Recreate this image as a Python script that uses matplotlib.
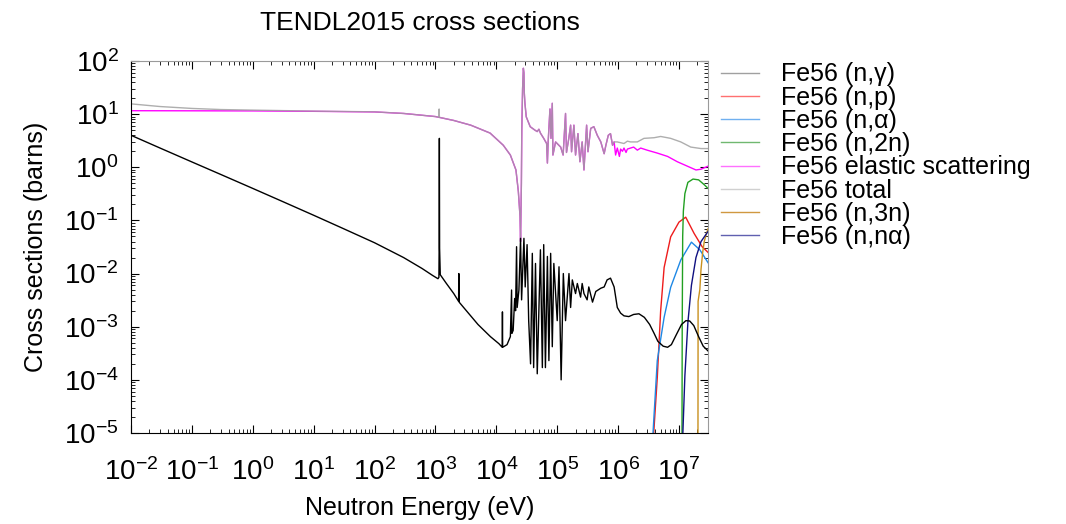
import matplotlib
matplotlib.use("Agg")
import matplotlib.pyplot as plt
from matplotlib.ticker import LogLocator, NullFormatter

plt.rcParams["font.family"] = ["Liberation Sans", "DejaVu Sans"]
plt.rcParams["mathtext.default"] = "regular"
plt.rcParams["axes.unicode_minus"] = False

# ========== data ==========
cap_E = [1e-2, 3e-2, 0.1, 0.3, 1, 3, 10, 30, 100, 300, 600, 900, 1.1e3, 1.14e3, 1.15e3,
         1.16e3, 1.17e3, 1.2e3, 1.5e3, 2e3, 2.4e3, 2.42e3, 2.45e3, 3e3, 5e3, 8e3, 1.1e4,
         1.25e4, 1.26e4, 1.27e4, 1.5e4, 1.7e4, 1.78e4, 1.8e4, 1.89e4, 2.0e4, 2.07e4, 2.15e4,
         2.2e4, 2.35e4, 2.5e4, 2.6e4, 2.84e4, 2.98e4, 3.2e4, 3.4e4, 3.65e4, 3.9e4, 4.1e4,
         4.4e4, 4.7e4, 5.3e4, 5.7e4, 6.0e4, 6.4e4, 6.9e4, 7.3e4, 7.8e4, 8.3e4, 8.8e4, 1.0e5,
         1.07e5, 1.16e5, 1.26e5, 1.37e5, 1.56e5, 1.66e5, 1.77e5, 2.0e5, 2.14e5, 2.42e5,
         2.57e5, 2.75e5, 3.1e5, 3.3e5, 3.8e5, 4.3e5, 5.2e5, 5.9e5, 6.6e5, 7.5e5, 8.6e5,
         9.7e5, 1.1e6, 1.25e6, 1.5e6, 1.8e6, 2.2e6, 2.7e6, 3.3e6, 3.9e6, 4.5e6, 5.5e6,
         6.5e6, 7.5e6, 9e6, 1.1e7, 1.3e7, 1.5e7, 1.75e7, 2.1e7, 2.5e7, 3.0e7]
cap_sig = [4.0, 2.3, 1.26, 0.73, 0.40, 0.23, 0.125, 0.071, 0.038, 0.020, 0.0125, 0.0092,
           0.0080, 0.0085, 0.03, 3.5, 0.03, 0.0095, 0.0066, 0.0042, 0.0030, 0.010, 0.0029,
           0.0022, 0.0011, 6.5e-4, 4.8e-4, 4.1e-4, 1.9e-3, 4.1e-4, 4.6e-4, 6.5e-4, 4.9e-3,
           7.5e-4, 8.5e-4, 3.4e-3, 2.0e-3, 0.032, 2.3e-3, 4.9e-3, 0.046, 3.2e-3, 0.046,
           5.6e-3, 0.035, 1.3e-3, 2.0e-4, 0.024, 1.7e-4, 0.0155, 1.3e-4, 0.028, 1.7e-4,
           0.035, 1.7e-4, 0.021, 2.3e-4, 0.024, 4.2e-4, 0.0155, 1.3e-3, 0.0134, 1.0e-4,
           0.010, 1.3e-3, 0.010, 2.3e-3, 7.6e-3, 4.2e-3, 6.5e-3, 3.6e-3, 6.5e-3, 4.2e-3,
           3.2e-3, 5.6e-3, 2.9e-3, 4.6e-3, 5.3e-3, 5.6e-3, 7.6e-3, 8.2e-3, 5.6e-3, 2.3e-3,
           1.8e-3, 1.6e-3, 1.55e-3, 1.7e-3, 1.75e-3, 1.5e-3, 1.1e-3, 7.5e-4, 5.3e-4, 4.3e-4,
           4.1e-4, 4.6e-4, 7e-4, 1.1e-3, 1.3e-3, 1.28e-3, 1.05e-3, 6.5e-4, 4.3e-4, 3.5e-4]

np_E = [3.8e6, 4.4e6, 5.0e6, 5.7e6, 7.3e6, 1.0e7, 1.29e7, 1.77e7, 2.4e7, 3.0e7]
np_sig = [8e-6, 1.1e-4, 2e-3, 0.013, 0.049, 0.093, 0.115, 0.057, 0.032, 0.025]

na_E = [3.7e6, 4.4e6, 5.7e6, 7.3e6, 1.07e7, 1.6e7, 2.2e7, 3.0e7]
na_sig = [8e-6, 2.3e-4, 1.5e-3, 5.5e-3, 0.018, 0.039, 0.028, 0.016]

n2n_E = [1.12e7, 1.13e7, 1.15e7, 1.18e7, 1.25e7, 1.4e7, 1.7e7, 2.1e7, 2.6e7, 3.0e7]
n2n_sig = [8e-6, 1e-3, 0.05, 0.15, 0.32, 0.52, 0.6, 0.58, 0.47, 0.40]

el_E = [1e-2, 1, 10, 100, 300, 1e3, 1.15e3, 2e3, 3.8e3, 7.9e3, 1.3e4, 1.7e4, 2.1e4, 2.3e4,
        2.45e4, 2.5e4, 2.58e4, 2.62e4, 2.7e4, 2.78e4, 2.84e4, 2.88e4, 2.95e4, 3.1e4, 3.6e4,
        4.3e4, 4.7e4, 5.0e4, 5.3e4, 6.0e4, 6.7e4, 6.9e4, 7.1e4, 7.6e4, 7.9e4, 8.3e4, 8.5e4,
        9.4e4, 1.14e5, 1.25e5, 1.37e5, 1.42e5, 1.55e5, 1.66e5, 1.72e5, 1.88e5, 2.0e5,
        2.19e5, 2.36e5, 2.57e5, 2.75e5, 3.04e5, 3.2e5, 3.55e5, 4.0e5, 4.55e5, 5.2e5, 5.9e5,
        6.3e5, 6.9e5, 7.5e5, 8.1e5, 8.6e5, 9.1e5, 9.7e5, 1.05e6, 1.1e6, 1.18e6, 1.25e6,
        1.35e6, 1.42e6, 1.6e6, 1.8e6, 2.07e6, 2.35e6, 3.0e6, 4.4e6, 6.5e6, 9.4e6, 1.37e7,
        1.9e7, 2.3e7, 3.0e7]
el_sig = [11.6, 11.5, 11.3, 11.0, 10.3, 9.0, 8.7, 7.6, 6.2, 4.4, 2.6, 1.7, 0.89, 0.35,
          0.12, 0.04, 0.5, 5, 30, 73, 60, 25, 16, 8.9, 5.8,
          5.0, 4.7, 5.2, 4.4, 3.5, 2.8, 1.2, 3.0, 12.5, 3.5, 16, 1.7,
          3.0, 2.4, 1.7, 10.3, 1.9, 3.5, 6.2, 1.96, 6.2, 1.7,
          4.3, 1.27, 3.0, 0.89, 6.2, 1.96, 5.4, 5.8, 4.0, 3.0, 1.8,
          2.6, 4.0, 4.3, 2.6, 3.0, 1.7, 2.3, 1.6, 2.2, 2.0, 2.3,
          1.9, 2.2, 2.3, 2.4, 2.1, 2.3, 2.1, 1.85, 1.6, 1.27, 1.05,
          0.89, 0.92, 1.05]

tot_E = [1e-2, 3e-2, 0.1, 0.3, 1, 10, 100, 300, 1e3, 1.14e3, 1.15e3, 1.16e3, 2e3, 3.8e3,
         7.9e3, 1.3e4, 1.7e4, 2.1e4, 2.3e4, 2.45e4, 2.5e4, 2.58e4, 2.62e4, 2.7e4, 2.78e4,
         2.84e4, 2.88e4, 2.95e4, 3.1e4, 3.6e4, 4.3e4, 4.7e4, 5.0e4, 5.3e4, 6.0e4, 6.7e4,
         6.9e4, 7.1e4, 7.6e4, 7.9e4, 8.3e4, 8.5e4, 9.4e4, 1.14e5, 1.25e5, 1.37e5, 1.42e5,
         1.55e5, 1.66e5, 1.72e5, 1.88e5, 2.0e5, 2.19e5, 2.36e5, 2.57e5, 2.75e5, 3.04e5,
         3.2e5, 3.55e5, 4.0e5, 4.55e5, 5.2e5, 5.9e5, 6.3e5, 6.9e5, 7.5e5, 8.1e5, 8.6e5,
         9.7e5, 1.1e6, 1.25e6, 1.42e6, 1.6e6, 2.07e6, 2.66e6, 3.9e6, 5.0e6, 7.3e6, 1.07e7,
         1.56e7, 2.3e7, 3.0e7]
tot_sig = [15.6, 13.9, 12.8, 12.2, 11.9, 11.4, 11.05, 10.3, 9.0, 8.7, 12.5, 8.7, 7.6, 6.2,
           4.4, 2.6, 1.7, 0.89, 0.35, 0.12, 0.04, 0.5, 5, 30, 73,
           60, 25, 16, 8.9, 5.8, 5.0, 4.7, 5.2, 4.4, 3.5, 2.8,
           1.2, 3.0, 12.5, 3.5, 16, 1.7, 3.0, 2.4, 1.7, 10.3, 1.9,
           3.5, 6.2, 1.96, 6.2, 1.7, 4.3, 1.27, 3.0, 0.89, 6.2,
           1.96, 5.4, 5.8, 4.0, 3.0, 1.8, 2.6, 4.0, 4.3, 2.6, 3.0,
           3.0, 2.9, 2.8, 3.1, 3.0, 3.0, 3.5, 3.6, 3.8, 3.5, 3.0,
           2.4, 2.25, 2.25]

n3n_E = [2.05e7, 2.06e7, 2.2e7, 2.3e7, 2.45e7, 2.6e7, 2.8e7, 3.0e7]
n3n_sig = [8e-6, 3e-3, 5e-3, 0.012, 0.025, 0.04, 0.055, 0.07]

nna_E = [1.15e7, 1.25e7, 1.4e7, 1.6e7, 1.9e7, 2.3e7, 3.0e7]
nna_sig = [8e-6, 1.2e-4, 1.2e-3, 6e-3, 0.02, 0.04, 0.062]

labels = ["Fe56 (n,\u03b3)", "Fe56 (n,p)", "Fe56 (n,\u03b1)", "Fe56 (n,2n)",
          "Fe56 elastic scattering", "Fe56 total", "Fe56 (n,3n)", "Fe56 (n,n\u03b1)"]
# ===============================

fig = plt.figure(figsize=(10.66, 5.24), dpi=100)
ax = fig.add_axes([0.1229, 0.1737, 0.5413, 0.7099])

l_cap, = ax.plot(cap_E, cap_sig, color="black", lw=1.0, zorder=3)
l_np, = ax.plot(np_E, np_sig, color="#ee1c1c", lw=1.0)
l_na, = ax.plot(na_E, na_sig, color="#1e88e5", lw=1.0)
l_2n, = ax.plot(n2n_E, n2n_sig, color="#22a022", lw=1.0)
l_el, = ax.plot(el_E, el_sig, color="#ff00ff", lw=1.0)
l_tot, = ax.plot(tot_E, tot_sig, color="#a0a0a0", lw=1.0, alpha=0.85)
l_3n, = ax.plot(n3n_E, n3n_sig, color="#c8901e", lw=1.0)
l_na2, = ax.plot(nna_E, nna_sig, color="#101080", lw=1.0)

ax.set_xscale("log")
ax.set_yscale("log")
ax.set_xlim(1e-2, 3e7)
ax.set_ylim(1e-5, 1e2)

ax.xaxis.set_major_locator(LogLocator(base=10, numticks=20))
ax.xaxis.set_minor_locator(LogLocator(base=10, subs=range(2, 10), numticks=20))
ax.xaxis.set_minor_formatter(NullFormatter())
ax.yaxis.set_major_locator(LogLocator(base=10, numticks=20))
ax.yaxis.set_minor_locator(LogLocator(base=10, subs=range(2, 10), numticks=20))
ax.yaxis.set_minor_formatter(NullFormatter())

ax.tick_params(which="both", direction="in", top=True, right=True, labelsize=20)
ax.tick_params(which="major", length=6, width=0.8)
ax.tick_params(which="minor", length=3, width=0.6)
ax.tick_params(axis="x", which="major", pad=18)
ax.tick_params(axis="y", which="major", pad=9)

for side in ["top", "right"]:
    ax.spines[side].set_color("#9a9a9a")
for side in ["left", "bottom"]:
    ax.spines[side].set_color("black")

ax.set_title("TENDL2015 cross sections", fontsize=19, pad=22)
ax.set_xlabel("Neutron Energy (eV)", fontsize=18, labelpad=7)
ax.set_ylabel("Cross sections (barns)", fontsize=18, labelpad=11)

handles = [l_cap, l_np, l_na, l_2n, l_el, l_tot, l_3n, l_na2]
leg = fig.legend(handles, labels, loc="upper left", bbox_to_anchor=(0.667, 0.9),
                 frameon=False, fontsize=18, handlelength=1.5, handletextpad=0.9,
                 labelspacing=-0.03, borderaxespad=0)
leg_colors = ["#a0a0a0", "#ff7070", "#70b0f0", "#70b870", "#ff70ff", "#d0d0d0",
              "#d09840", "#6060b0"]
for line, c in zip(leg.get_lines(), leg_colors):
    line.set_color(c)
    line.set_alpha(1)

fig.savefig("out.png", dpi=100)
